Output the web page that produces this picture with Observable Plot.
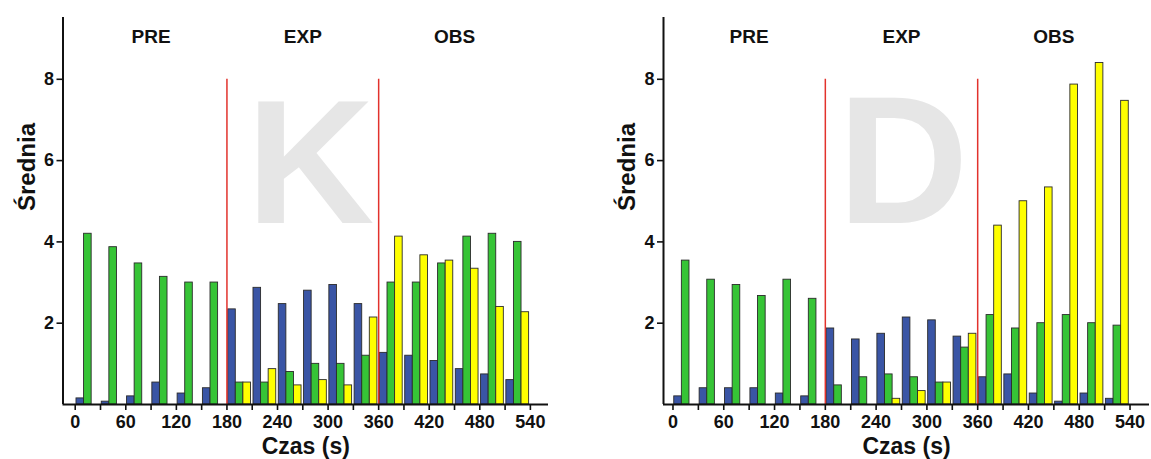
<!DOCTYPE html>
<html>
<head>
<meta charset="utf-8">
<style>
  html, body { margin: 0; padding: 0; background: #fff; }
  #wrap { position: relative; width: 1151px; height: 459px; overflow: hidden; background: #fff; }
  #left { position: absolute; left: 0; top: 0; }
  #right { position: absolute; left: 575px; top: 0; }
</style>
<script src="https://cdn.jsdelivr.net/npm/d3@7"></script>
<script src="https://cdn.jsdelivr.net/npm/@observablehq/plot@0.6"></script>
</head>
<body>
<div id="wrap"><div id="left"></div><div id="right"></div></div>
<script>
// ---- Data ----
const times = [0, 30, 60, 90, 120, 150, 180, 210, 240, 270, 300, 330, 360, 390, 420, 450, 480, 510];

// Panel K
const kBlue   = [0.15, 0.07, 0.20, 0.54, 0.27, 0.40, 2.34, 2.87, 2.47, 2.80, 2.94, 2.47, 1.27, 1.20, 1.07, 0.87, 0.74, 0.60];
const kGreen  = [4.20, 3.87, 3.47, 3.14, 3.00, 3.00, 0.54, 0.54, 0.80, 1.00, 1.00, 1.20, 3.00, 3.00, 3.47, 4.13, 4.20, 4.00];
const kYellow = [0, 0, 0, 0, 0, 0, 0.54, 0.87, 0.47, 0.60, 0.47, 2.14, 4.13, 3.67, 3.54, 3.34, 2.40, 2.27];

// Panel D
const dBlue   = [0.20, 0.40, 0.40, 0.40, 0.27, 0.20, 1.87, 1.60, 1.74, 2.14, 2.07, 1.67, 0.67, 0.74, 0.27, 0.07, 0.27, 0.14];
const dGreen  = [3.54, 3.07, 2.94, 2.67, 3.07, 2.60, 0.47, 0.67, 0.74, 0.67, 0.54, 1.40, 2.20, 1.87, 2.00, 2.20, 2.00, 1.94];
const dYellow = [0, 0, 0, 0, 0, 0, 0, 0, 0.14, 0.33, 0.54, 1.74, 4.40, 5.00, 5.34, 7.87, 8.40, 7.47];

const seriesColors = ["#3a55a5", "#36c436", "#ffff00"];
const xLabelTicks = [0, 60, 120, 180, 240, 300, 360, 420, 480, 540];
const xMinorTicks = [30, 90, 150, 210, 270, 330, 390, 450, 510];
const yTicks = [2, 4, 6, 8];
const sections = ["PRE", "EXP", "OBS"];
const sectionCenters = [90, 270, 450];
const phaseBoundaries = [180, 360];
const phaseLineTop = 8;
const binWidth = 30;

const FONT = '"Liberation Sans", Arial, Helvetica, sans-serif';

function rows(values) {
  return times.map((t, i) => ({t, v: values[i]}));
}

function panel({series, letter, letterX, letterSize, xDomain, width, marginLeft, marginRight}) {
  const inset = 1.5;
  const w = (binWidth - 2 * inset) / 3;
  const barMarks = series.map((vals, j) =>
    Plot.rectY(rows(vals), {
      x1: d => d.t + inset + j * w,
      x2: d => d.t + inset + (j + 1) * w,
      y: "v",
      fill: seriesColors[j],
      stroke: "#2b2b2b",
      strokeWidth: 0.9
    })
  );
  return Plot.plot({
    width, height: 459,
    marginTop: 17, marginBottom: 55, marginLeft, marginRight,
    x: {domain: xDomain, axis: null},
    y: {domain: [0, 9.52], axis: null},
    style: {fontFamily: FONT, fontWeight: "bold", color: "#111", background: "transparent"},
    marks: [
      Plot.text([letter], {x: letterX, y: 4.47, lineAnchor: "bottom", textAnchor: "middle",
        fontSize: letterSize, fontWeight: "bold", fill: "#e6e6e6"}),
      ...barMarks,
      Plot.ruleX(phaseBoundaries, {y1: 0, y2: phaseLineTop, stroke: "#e2322c", strokeWidth: 1.5}),
      Plot.ruleX([xDomain[0]], {stroke: "#111", strokeWidth: 2}),
      Plot.ruleY([0], {stroke: "#111", strokeWidth: 2}),
      Plot.axisY(yTicks, {tickSize: 6, tickPadding: 3, fontSize: 18, fontWeight: "bold",
        strokeWidth: 1.6, label: null, fill: "#111"}),
      Plot.axisX(xMinorTicks, {tickSize: 6, tickFormat: () => "", strokeWidth: 1.6, label: null}),
      Plot.axisX(xLabelTicks, {tickSize: 6, tickPadding: 5, fontSize: 18, fontWeight: "bold",
        strokeWidth: 1.6, label: null, fill: "#111"}),
      Plot.text(sections, {x: (d, i) => sectionCenters[i], y: 8.9, lineAnchor: "bottom",
        fontSize: 19, fontWeight: "bold", fill: "#111"}),
      Plot.text(["Średnia"], {frameAnchor: "left", rotate: -90, dx: -28.5, lineAnchor: "bottom",
        fontSize: 24, fontWeight: "bold", fill: "#111"}),
      Plot.text(["Czas (s)"], {frameAnchor: "bottom", dy: 49, lineAnchor: "bottom",
        fontSize: 23, fontWeight: "bold", fill: "#111"})
    ]
  });
}

document.getElementById("left").append(panel({
  series: [kBlue, kGreen, kYellow], letter: "K", letterX: 279, letterSize: 177,
  xDomain: [-14.5, 561.5], width: 575, marginLeft: 62.5, marginRight: 27
}));
document.getElementById("right").append(panel({
  series: [dBlue, dGreen, dYellow], letter: "D", letterX: 272, letterSize: 181,
  xDomain: [-11.2, 563], width: 576, marginLeft: 88, marginRight: 2
}));
</script>
</body>
</html>
